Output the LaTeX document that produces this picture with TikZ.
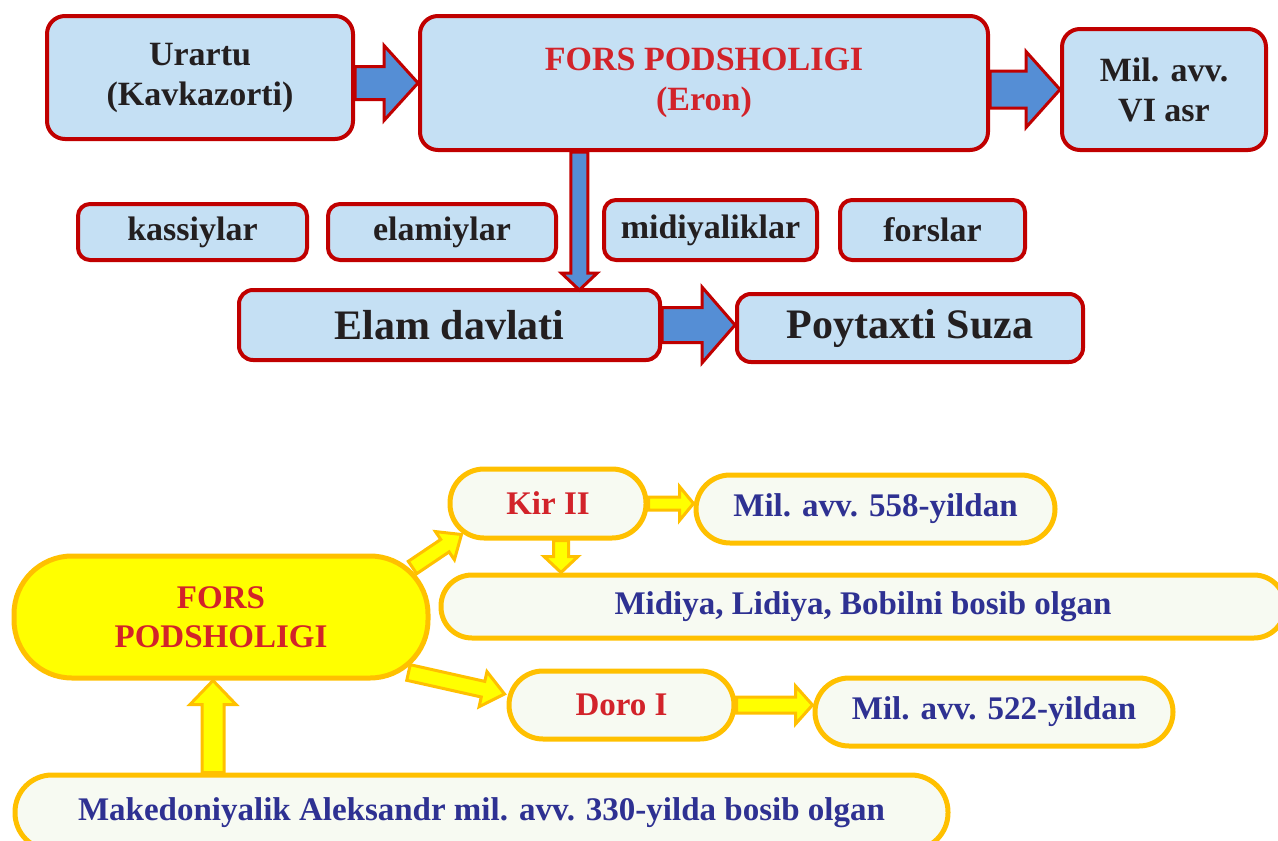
\documentclass[tikz,border=0pt]{standalone}
\usepackage{fontspec}
\setmainfont{Liberation Serif}
\usetikzlibrary{calc}
\definecolor{boxblue}{HTML}{C5E0F4}
\definecolor{redb}{HTML}{C00000}
\definecolor{darktext}{HTML}{231F20}
\definecolor{redtext}{HTML}{D2232A}
\definecolor{arrowblue}{HTML}{558ED5}
\definecolor{yelfill}{HTML}{FFFF00}
\definecolor{orangeb}{HTML}{FFC000}
\definecolor{palefill}{HTML}{F7FAF2}
\definecolor{navytext}{HTML}{2E3192}
\newcommand\blockarrow[6]{%
  \coordinate (bahead) at ($(#2)!#5!(#1)$);
  \draw[#6] ($(#1)!#3!90:(#2)$) -- ($(bahead)!#3!-90:(#1)$) -- ($(bahead)!#4!-90:(#1)$)
    -- (#2) -- ($(bahead)!#4!90:(#1)$) -- ($(bahead)!#3!90:(#1)$) -- ($(#1)!#3!-90:(#2)$) -- cycle;}
\begin{document}
\begin{tikzpicture}[x=1pt,y=-1pt,
  topbox/.style={draw=redb, line width=4pt, fill=boxblue, rounded corners=18pt, inner sep=0pt,
    align=center, text=darktext, font=\bfseries\fontsize{34}{40}\selectfont},
  smallbox/.style={topbox, rounded corners=12pt},
  bigtext/.style={font=\bfseries\fontsize{42}{48}\selectfont},
  botbox/.style={draw=orangeb, line width=5pt, fill=palefill, inner sep=0pt, align=center,
    text=navytext, font=\bfseries\fontsize{33}{39}\selectfont},
  bluearrow/.style={draw=redb, line width=3pt, fill=arrowblue, line join=miter},
  yelarrow/.style={draw=orangeb, line width=3pt, fill=yelfill, line join=miter},
  sz/.style 2 args={minimum width=#1pt, minimum height=#2pt}]
\useasboundingbox (0,0) rectangle (1278,841);
% top section
\node[topbox, sz={306}{123}] (urartu) at (200,77.5) {Urartu\\(Kavkazorti)};
\node[topbox, sz={568}{134}, text=redtext] (fors) at (704,83) {FORS PODSHOLIGI\\(Eron)};
\node[topbox, sz={204}{121}] (mil) at (1164,89.5) {Mil. avv.\\VI asr};
\node[smallbox, sz={229}{56}] (kass) at (192.5,232) {kassiylar};
\node[smallbox, sz={228}{56}] (elamiy) at (442,232) {elamiylar};
\node[smallbox, sz={213}{60}] (midi) at (710.5,230) {midiyaliklar};
\node[smallbox, sz={185}{60}] (forslar) at (932.5,230) {forslar};
\node[topbox, bigtext, rounded corners=14pt, sz={421}{70}] (elamd) at (449.5,325) {Elam davlati};
\node[topbox, bigtext, rounded corners=14pt, sz={346}{68}] (suza) at (910,328) {Poytaxti Suza};
\blockarrow{urartu.east |- fors.west}{fors.west}{16.5pt}{37.5pt}{34pt}{bluearrow}
\blockarrow{fors.east |- mil.west}{mil.west}{18.5pt}{38pt}{34pt}{bluearrow}
\coordinate (va) at ($(fors.south west)!0.282!(fors.south east)$);
\coordinate (vb) at ([yshift=-2pt]va |- elamd.north);
\blockarrow{va}{vb}{8.5pt}{18pt}{17pt}{bluearrow}
\blockarrow{elamd.east}{suza.west |- elamd.east}{17.5pt}{38pt}{33pt}{bluearrow}
% bottom section
\node[botbox, fill=yelfill, text=redtext, rounded corners=58pt, sz={414}{122}] (forsy) at (221,617) {FORS\\PODSHOLIGI};
\node[botbox, text=redtext, rounded corners=34pt, sz={196}{69}] (kir) at (548,503.5) {Kir II};
\node[botbox, rounded corners=34pt, sz={359}{68}] (m558) at (875.5,509) {Mil. avv. 558-yildan};
\node[botbox, rounded corners=31pt, sz={844}{63}] (midiya) at (863,606.5) {Midiya, Lidiya, Bobilni bosib olgan};
\node[botbox, text=redtext, rounded corners=34pt, sz={225}{68}] (doro) at (621.5,705) {Doro I};
\node[botbox, rounded corners=34pt, sz={358}{68}] (m522) at (994,712) {Mil. avv. 522-yildan};
\node[botbox, rounded corners=37pt, sz={933}{75}] (maked) at (481.5,812.5) {Makedoniyalik Aleksandr mil. avv. 330-yilda bosib olgan};
\blockarrow{$(forsy.north east)+(-18,14)$}{$(kir.south west)+(14,-6)$}{7.5pt}{17pt}{20pt}{yelarrow}
\blockarrow{$(forsy.south east)+(-22,-8)$}{$(doro.west)+(-2,-11)$}{8pt}{18pt}{22pt}{yelarrow}
\blockarrow{kir.east}{m558.west |- kir.east}{6.5pt}{17pt}{14pt}{yelarrow}
\coordinate (ka) at ($(kir.south)+(13,0)$);
\blockarrow{ka}{ka |- midiya.north}{7.5pt}{17pt}{16pt}{yelarrow}
\blockarrow{doro.east}{m522.west |- doro.east}{8pt}{19pt}{17pt}{yelarrow}
\coordinate (fa) at ([xshift=-8pt]forsy.south);
\blockarrow{fa |- maked.north}{fa}{11pt}{23pt}{24pt}{yelarrow}
\end{tikzpicture}
\end{document}
